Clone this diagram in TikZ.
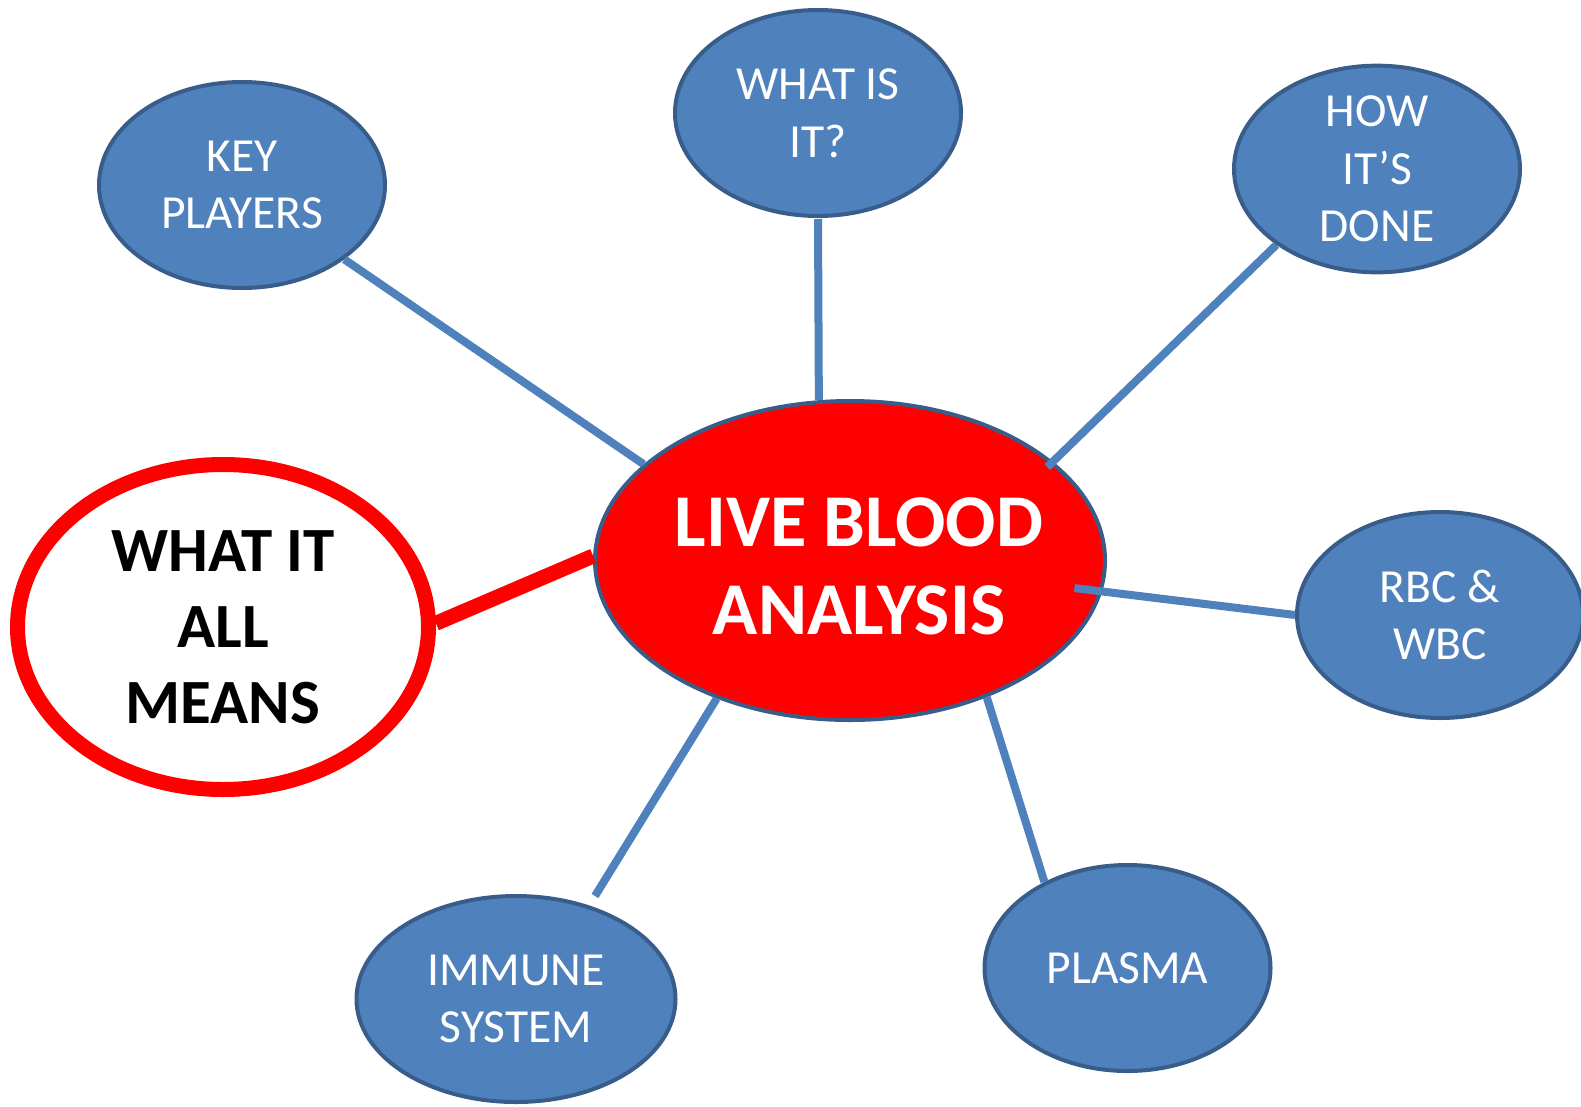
\documentclass[tikz,border=0pt]{standalone}
\usepackage{fontspec}
\setmainfont{Carlito}
\usetikzlibrary{shapes.geometric}

\definecolor{topicfill}{HTML}{4F81BD}
\definecolor{topicedge}{HTML}{385D8A}
\definecolor{hotred}{HTML}{FF0000}

\begin{document}
\begin{tikzpicture}[x=1pt,y=1pt,
  topic/.style={ellipse, draw=topicedge, line width=4pt, fill=topicfill,
    text=white, inner sep=0pt, minimum width=286pt, minimum height=206pt,
    align=center, font=\fontsize{47.5}{57.5}\selectfont},
  hub/.style={ellipse, draw=topicedge, line width=4pt, fill=hotred,
    inner sep=0pt, minimum width=510pt, minimum height=319pt},
  hubtext/.style={text=white, inner sep=0pt, align=center,
    font=\bfseries\fontsize{74.5}{88}\selectfont},
  meaning/.style={ellipse, draw=hotred, line width=15pt, fill=white,
    text=black, inner sep=0pt, minimum width=411pt, minimum height=325pt,
    align=center, font=\bfseries\fontsize{63}{76}\selectfont},
  spoke/.style={draw=topicfill, line width=8pt},
  redspoke/.style={draw=hotred, line width=15pt}]

\useasboundingbox (0,0) rectangle (1581,-1106);

% central topic and the surrounding themes
\node[hub, label={[hubtext, name=hubtitle, xshift=9pt, yshift=-6pt]center:LIVE BLOOD\\ANALYSIS}] (hub) at (850,-560.5) {};
\node[meaning] (means) at (223,-627) {WHAT IT\\ALL\\MEANS};
\node[topic] (players) at (242,-185) {KEY\\PLAYERS};
\node[topic] (whatis) at (818,-113) {WHAT IS\\IT?};
\node[topic] (how) at (1377,-169) {HOW\\IT’S\\DONE};
\node[topic] (cells) at (1440,-615) {RBC \&\\WBC};
\node[topic] (plasma) at (1127.5,-968) {PLASMA};
\node[topic, minimum width=319pt] (immune) at (516,-999) {IMMUNE\\SYSTEM};

% the spoke towards IMMUNE SYSTEM stops short of its ellipse
\coordinate (immunetip) at (595,-896);

% spokes from each theme to the central topic
\draw[redspoke] (means.1.5) -- (hub.179);
\draw[spoke] (players.324) -- (hub.155);
\draw[spoke, shorten <=1pt] (whatis.south) -- (hub.101);
\draw[spoke, shorten >=-8pt] (how.217) -- (hub.26.4);
\draw[spoke, shorten >=-28pt] (cells.west) -- (hub.-7);
\draw[spoke] (plasma.134) -- (hub.-45.5);
\draw[spoke] (immunetip) -- (hub.226.8);
\end{tikzpicture}
\end{document}
